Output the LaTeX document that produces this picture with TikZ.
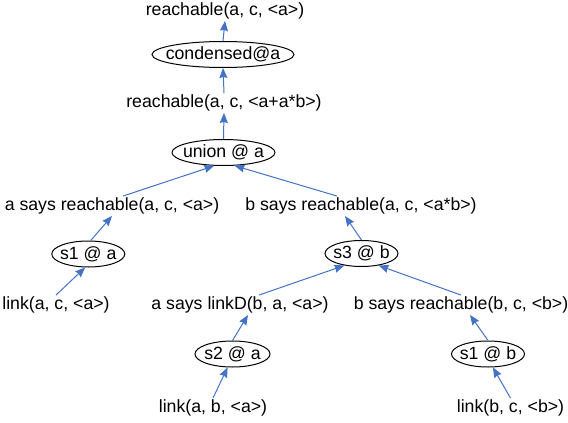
\documentclass[tikz,border=0pt]{standalone}
\usepackage{fontspec}
\setmainfont{Liberation Sans}
\usetikzlibrary{shapes.geometric,arrows.meta}
\definecolor{flowblue}{RGB}{68,114,196}
\tikzset{
  fact/.style={inner xsep=1pt,inner ysep=1.5pt,text height=12.5pt,text depth=4pt},
  rule/.style={draw,ellipse,line width=1pt,inner xsep=-30pt,inner ysep=-8pt,minimum height=26pt},
  flow/.style={draw=flowblue,line width=1pt,-{Stealth[length=10pt,width=8pt,inset=1pt]}}
}
\begin{document}
\begin{tikzpicture}[x=1pt,y=1pt,font=\fontsize{17.7}{21}\selectfont]
  \useasboundingbox (0,0) rectangle (568,-423);
  \node[fact] (top) at (225,-11) {reachable(a, c, <a>)};
  \node[rule,minimum width=142pt] (cond) at (223,-54.5) {condensed@a};
  \node[fact] (reach2) at (224,-103) {reachable(a, c, <a+a*b>)};
  \node[rule,minimum width=103pt] (union) at (223.5,-152.5) {union @ a};
  \node[fact] (asays) at (112,-206) {a says reachable(a, c, <a>)};
  \node[fact] (bsays) at (361,-206) {b says reachable(a, c, <a*b>)};
  \node[rule,minimum width=73pt] (s1a) at (88.3,-254) {s1 @ a};
  \node[rule,minimum width=73pt] (s3b) at (361.5,-253.5) {s3 @ b};
  \node[fact] (linkac) at (56,-305) {link(a, c, <a>)};
  \node[fact] (linkD) at (240,-305) {a says linkD(b, a, <a>)};
  \node[fact] (bsays2) at (461,-305) {b says reachable(b, c, <b>)};
  \node[rule,minimum width=75pt] (s2a) at (232.5,-354) {s2 @ a};
  \node[rule,minimum width=73pt] (s1b) at (488,-354) {s1 @ b};
  \node[fact] (linkab) at (213,-408) {link(a, b, <a>)};
  \node[fact] (linkbc) at (510.5,-408) {link(b, c, <b>)};
  % derivations, bottom to top
  \draw[flow] (cond.north) -- (top.south);
  \draw[flow] (reach2.north) -- (cond.south);
  \draw[flow] (union.north) -- (reach2.south);
  \draw[flow] ([xshift=11pt]asays.north) -- (union.235);
  \draw[flow] ([xshift=-24pt]bsays.north) -- (union.310);
  \draw[flow] (s1a.80) -- (asays.south);
  \draw[flow] (linkac.north) -- (s1a.257);
  \draw[flow] (s3b.north) -- ([xshift=-16pt]bsays.south);
  \draw[flow] ([xshift=19pt]linkD.north) -- (s3b.215);
  \draw[flow] (bsays2.north) -- (s3b.325);
  \draw[flow] (s2a.north) -- ([xshift=8pt]linkD.south);
  \draw[flow] (linkab.north) -- (s2a.250);
  \draw[flow] (s1b.north) -- ([xshift=9pt]bsays2.south);
  \draw[flow] (linkbc.north) -- (s1b.290);
\end{tikzpicture}
\end{document}
